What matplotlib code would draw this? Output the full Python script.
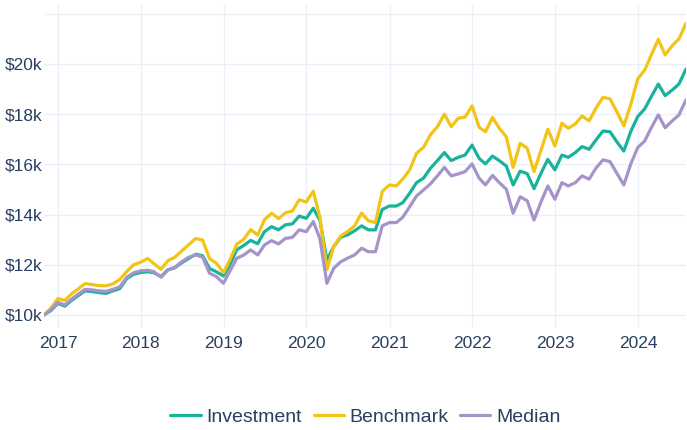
import numpy as np
import pandas as pd
import matplotlib
matplotlib.use("Agg")
import matplotlib.pyplot as plt
import matplotlib.dates as mdates
from matplotlib.ticker import FuncFormatter, FixedLocator

# ---- data (values in $ thousands, month-end) ----
dates = pd.date_range("2016-10-31", periods=94, freq="ME")

investment_k = [
    10.00, 10.17, 10.46, 10.35, 10.57, 10.77, 10.96, 10.93, 10.89, 10.86,
    10.96, 11.05, 11.45, 11.62, 11.69, 11.72, 11.68, 11.53, 11.80, 11.88,
    12.08, 12.25, 12.42, 12.36, 11.85, 11.72, 11.55, 12.05, 12.60, 12.77,
    12.97, 12.84, 13.32, 13.52, 13.39, 13.59, 13.63, 13.94, 13.85, 14.25,
    13.78, 12.19, 12.72, 13.10, 13.19, 13.35, 13.55, 13.39, 13.39, 14.20,
    14.34, 14.34, 14.47, 14.85, 15.27, 15.45, 15.84, 16.15, 16.47, 16.15,
    16.28, 16.37, 16.77, 16.24, 16.02, 16.33, 16.15, 15.93, 15.18, 15.73,
    15.63, 15.03, 15.65, 16.20, 15.78, 16.37, 16.28, 16.47, 16.71, 16.60,
    16.97, 17.33, 17.30, 16.90, 16.53, 17.30, 17.90, 18.21, 18.70, 19.20,
    18.74, 18.96, 19.20, 19.80,
]
benchmark_k = [
    10.00, 10.27, 10.65, 10.58, 10.83, 11.04, 11.25, 11.21, 11.17, 11.16,
    11.24, 11.41, 11.73, 12.00, 12.10, 12.25, 12.04, 11.82, 12.16, 12.30,
    12.55, 12.80, 13.05, 12.98, 12.24, 12.06, 11.68, 12.25, 12.82, 13.02,
    13.40, 13.18, 13.80, 14.05, 13.84, 14.07, 14.14, 14.59, 14.50, 14.93,
    13.90, 11.80, 12.72, 13.15, 13.32, 13.55, 14.06, 13.75, 13.68, 14.92,
    15.18, 15.14, 15.41, 15.78, 16.44, 16.68, 17.17, 17.50, 18.00, 17.50,
    17.84, 17.88, 18.33, 17.48, 17.30, 17.87, 17.44, 17.10, 15.88, 16.84,
    16.64, 15.71, 16.57, 17.40, 16.73, 17.64, 17.44, 17.61, 17.93, 17.73,
    18.24, 18.67, 18.61, 18.10, 17.54, 18.37, 19.40, 19.76, 20.36, 20.98,
    20.36, 20.73, 21.00, 21.62,
]
median_k = [
    10.00, 10.20, 10.50, 10.40, 10.62, 10.83, 11.02, 11.00, 10.96, 10.94,
    11.02, 11.12, 11.50, 11.68, 11.76, 11.78, 11.72, 11.50, 11.79, 11.90,
    12.12, 12.30, 12.39, 12.30, 11.66, 11.53, 11.26, 11.79, 12.26, 12.39,
    12.59, 12.39, 12.79, 12.96, 12.83, 13.05, 13.09, 13.39, 13.32, 13.72,
    13.05, 11.26, 11.86, 12.12, 12.26, 12.39, 12.66, 12.52, 12.52, 13.55,
    13.68, 13.68, 13.89, 14.31, 14.74, 14.98, 15.22, 15.54, 15.88, 15.54,
    15.62, 15.71, 16.02, 15.45, 15.18, 15.56, 15.27, 15.01, 14.05, 14.71,
    14.55, 13.78, 14.51, 15.14, 14.61, 15.27, 15.14, 15.27, 15.54, 15.41,
    15.85, 16.18, 16.11, 15.65, 15.18, 16.00, 16.67, 16.93, 17.46, 17.97,
    17.46, 17.73, 17.97, 18.57,
]
series_names = ["Investment", "Benchmark", "Median"]
y_ticks = [10000, 12000, 14000, 16000, 18000, 20000, 22000]

colors = ["#19b39c", "#f1c416", "#a793cb"]
text_color = "#2a3f5f"
grid_color = "#ebf0f8"

plt.rcParams["font.family"] = ["Liberation Sans", "DejaVu Sans"]

fig = plt.figure(figsize=(6.87, 4.30), dpi=100)
ax = fig.add_axes([44 / 687, 1 - 328 / 430, (686 - 44) / 687, (328 - 5) / 430])

for name, vals, c in zip(series_names, [investment_k, benchmark_k, median_k], colors):
    ax.plot(dates, np.array(vals) * 1000, color=c, lw=2.3, label=name,
            solid_joinstyle="round", solid_capstyle="round")

ax.set_xlim(dates[0], dates[-1])
ax.set_ylim(9480, 22350)

ax.yaxis.set_major_locator(FixedLocator(y_ticks))
ax.yaxis.set_major_formatter(FuncFormatter(lambda v, p: "" if v > 21000 else f"${v/1000:.0f}k"))
ax.xaxis.set_major_locator(mdates.YearLocator())
ax.xaxis.set_major_formatter(mdates.DateFormatter("%Y"))

ax.grid(True, color=grid_color, lw=1)
ax.set_axisbelow(True)
for s in ax.spines.values():
    s.set_visible(False)
ax.tick_params(axis="both", length=0, colors=text_color, labelsize=12.5)
ax.tick_params(axis="y", pad=1)
ax.tick_params(axis="x", pad=6)

handles, labels = ax.get_legend_handles_labels()
leg = fig.legend(handles, labels, loc="center", bbox_to_anchor=(365.5 / 687, 1 - 417 / 430),
                 ncol=3, frameon=False, fontsize=14, handlelength=1.55, handletextpad=0.3,
                 columnspacing=0.6, labelcolor=text_color)
for l in leg.get_lines():
    l.set_linewidth(2.3)

fig.savefig("out.png", dpi=100)
